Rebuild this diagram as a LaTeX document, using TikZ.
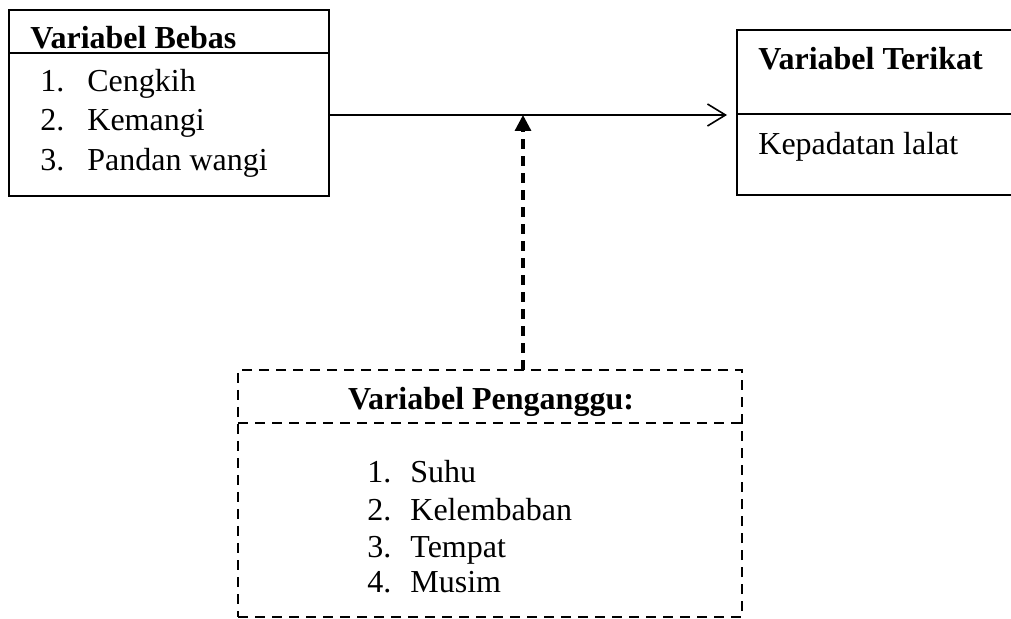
\documentclass[tikz,border=0pt]{standalone}
\usepackage{fontspec}
\setmainfont{Liberation Serif}
\usetikzlibrary{arrows.meta}
\begin{document}
\begin{tikzpicture}[x=0.5pt,y=-0.5pt,
  box/.style={draw, line width=0.6pt, inner sep=0pt, outer sep=0pt, anchor=north west},
  dbox/.style={draw, line width=1.2pt, dash pattern=on 5pt off 3.5pt, inner sep=0pt, outer sep=0pt, anchor=north west},
  txt/.style={anchor=base west, inner sep=0pt, font=\fontsize{16}{19}\selectfont},
  head/.style={txt, font=\fontsize{16}{19}\selectfont\bfseries},
  solidline/.style={line width=0.6pt},
  dline/.style={line width=1.2pt, dash pattern=on 5pt off 3.5pt}]
\useasboundingbox (0,0) rectangle (1011,619);
\clip (0,0) rectangle (1011,619);

% independent variable box
\node[box, minimum width=160pt, minimum height=93pt] (bebas) at (9,10) {};
\draw[solidline] (bebas.west |- 0,53) -- (bebas.east |- 0,53);
\node[head] (bh) at (30,49) {Variabel Bebas};
\node[txt] (b1n) at (40,92) {1.};  \node[txt] (b1) at (87,92) {Cengkih};
\node[txt] (b2n) at (40,131) {2.}; \node[txt] (b2) at (87,131) {Kemangi};
\node[txt] (b3n) at (40,171) {3.}; \node[txt] (b3) at (87,171) {Pandan wangi};

% dependent variable box
\node[box, minimum width=150pt, minimum height=82.5pt] (terikat) at (737,30) {};
\draw[solidline] (terikat.west |- 0,114) -- (terikat.east |- 0,114);
\node[head] (th) at (758,70) {Variabel Terikat};
\node[txt] (t1) at (758,155) {Kepadatan lalat};

% confounding variable box
\node[dbox, minimum width=252pt, minimum height=123.5pt] (penganggu) at (238,370) {};
\draw[dline] (penganggu.west |- 0,423) -- (penganggu.east |- 0,423);
\node[head, anchor=base] (ph) at (491,410) {Variabel Penganggu:};
\node[txt] (p1n) at (367,483) {1.}; \node[txt] (p1) at (410,483) {Suhu};
\node[txt] (p2n) at (367,520) {2.}; \node[txt] (p2) at (410,520) {Kelembaban};
\node[txt] (p3n) at (367,557) {3.}; \node[txt] (p3) at (410,557) {Tempat};
\node[txt] (p4n) at (367,592) {4.}; \node[txt] (p4) at (410,592) {Musim};

% connectors
\coordinate (j) at (523,115);
\draw[line width=0.8pt, -{Straight Barb[length=9pt,width=11pt]}]
  (bebas.east |- j) -- ([xshift=-5pt]terikat.west |- j);
\draw[line width=1.6pt, dash pattern=on 5pt off 3.5pt, -{Triangle[length=8pt,width=8pt]}]
  (penganggu.north -| j) -- (j);
\end{tikzpicture}
\end{document}
